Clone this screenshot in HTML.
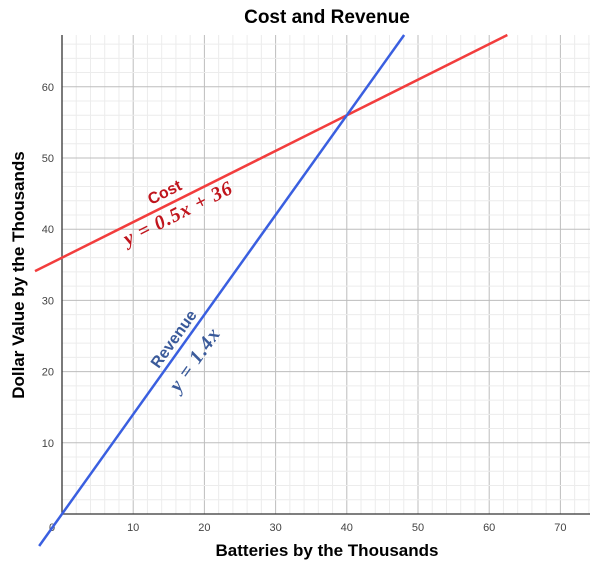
<!DOCTYPE html>
<html><head><meta charset="utf-8"><style>
body{margin:0;background:#fff}
svg{display:block;font-family:"Liberation Sans",sans-serif}
</style></head><body>
<svg id="chart" width="602" height="572" xmlns="http://www.w3.org/2000/svg">
<text x="327" y="23" text-anchor="middle" font-size="19" font-weight="bold">Cost and Revenue</text>
<text x="327" y="556" text-anchor="middle" font-size="17" font-weight="bold">Batteries by the Thousands</text>
<text transform="translate(24,275) rotate(-90)" text-anchor="middle" font-size="17" font-weight="bold">Dollar Value by the Thousands</text>
<g id="grid"></g><g id="lines"></g><g id="labels"></g>
</svg>
<script>
const xTicks=[0,10,20,30,40,50,60,70];
const yTicks=[10,20,30,40,50,60];
const costLine=[0.5,36];
const revenueLine=[1.4,0];
const NS="http://www.w3.org/2000/svg";
const px0=62,py0=514,sc=7.12,pLeft=35,pRight=590,pTop=35,pBottom=546;
const X=v=>px0+v*sc, Y=v=>py0-v*sc;
function mk(t,attrs,p){const e=document.createElementNS(NS,t);for(const k in attrs)e.setAttribute(k,attrs[k]);p.appendChild(e);return e;}
const gridG=document.getElementById('grid');
for(let v=-2;v<=74;v+=2){const px=X(v);if(px<px0||px>pRight)continue;
 const l=mk('line',{x1:px,x2:px,y1:pTop,y2:py0,stroke:v%10===0?'#bdbdbd':'#ececec','stroke-width':1},gridG);
 
 }
for(let v=2;v<=66;v+=2){const py=Y(v);if(py<pTop)continue;
 const l=mk('line',{x1:px0,x2:pRight,y1:py,y2:py,stroke:v%10===0?'#bdbdbd':'#ececec','stroke-width':1},gridG);
 
 }
let ax=mk('line',{x1:px0,x2:px0,y1:pTop,y2:py0,stroke:'#333','stroke-width':1.3},gridG);


ax=mk('line',{x1:px0,x2:pRight,y1:py0,y2:py0,stroke:'#333','stroke-width':1.3},gridG);


xTicks.forEach(v=>{const t=mk('text',{x:v===0?X(v)-10:X(v),y:py0+17,'text-anchor':'middle','font-size':11,fill:'#444'},gridG);t.textContent=v;
 
 });
yTicks.forEach(v=>{const t=mk('text',{x:px0-8,y:Y(v)+4,'text-anchor':'end','font-size':11,fill:'#444'},gridG);t.textContent=v;
 
 });
const lnG=document.getElementById('lines');
function drawLine(p,color,name){
 const xa=(pLeft-px0)/sc, xb=(pRight-px0)/sc;
 const ymin=(py0-pBottom)/sc, ymax=(py0-pTop)/sc;
 let pts=[[xa,p[0]*xa+p[1]],[xb,p[0]*xb+p[1]]];
 pts=pts.map(([x,y])=>{if(y>ymax){x=(ymax-p[1])/p[0];y=ymax;}if(y<ymin){x=(ymin-p[1])/p[0];y=ymin;}return [x,y];});
 const l=mk('line',{x1:X(pts[0][0]),y1:Y(pts[0][1]),x2:X(pts[1][0]),y2:Y(pts[1][1]),stroke:color,'stroke-width':2.5},lnG);
 
 
}
drawLine(costLine,'#f23d3d','cost-line');
drawLine(revenueLine,'#3a5fe0','revenue-line');
const lbG=document.getElementById('labels');
function lab(txt,x,y,ang,col,name,ser){const t=mk('text',{transform:`translate(${x},${y}) rotate(${ang})`,'text-anchor':'middle','font-size':ser?20:16,'font-weight':'bold',fill:col,'font-family':ser?'"Liberation Serif",serif':'"Liberation Sans",sans-serif','font-style':ser?'italic':'normal','letter-spacing':ser?1:0},lbG);
 t.textContent=txt;
 
 }
lab('Cost',167,197,-26.6,'#c0141c','cost-label',false);
lab('y = 0.5x + 36',181,219,-26.6,'#c0141c','cost-equation',true);
lab('Revenue',178,342,-54.5,'#3a5a9a','revenue-label',false);
lab('y = 1.4x',200,363,-54.5,'#3a5a9a','revenue-equation',true);
</script>
</body></html>
